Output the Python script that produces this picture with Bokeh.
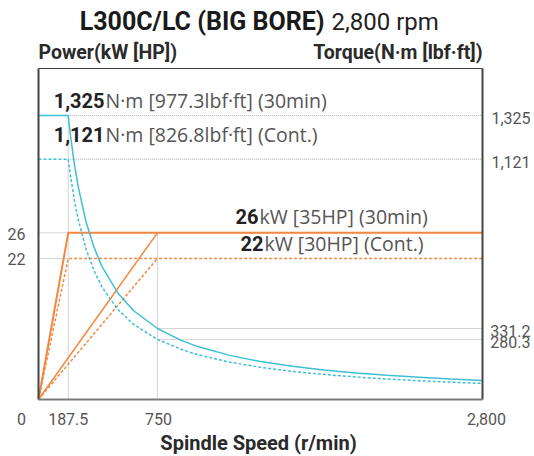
from bokeh.plotting import figure
from bokeh.models import Range1d, Label
from bokeh.embed import file_html
from bokeh.resources import INLINE

# ---------------- data ----------------
speed_ticks = [0, 187.5, 750, 2800]
speed_tick_labels = ["0", "187.5", "750", "2,800"]
power_ticks = [22, 26]
power_tick_labels = ["22", "26"]
torque_ticks = [280.3, 331.2, 1121, 1325]
torque_tick_labels = ["280.3", "331.2", "1,121", "1,325"]

# power (kW)
power_30_speed = [0, 187.5, 2800]
power_30 = [0, 26, 26]
power_30_high_speed = [0, 750]
power_30_high = [0, 26]
power_cont_speed = [0, 187.5, 2800]
power_cont = [0, 22, 22]
power_cont_high_speed = [0, 750]
power_cont_high = [0, 22]

# torque (N·m)
torque_speed = [0, 187.5, 200, 225, 250, 300, 350, 400, 500, 600, 750, 900,
                1000, 1200, 1400, 1600, 1800, 2000, 2200, 2400, 2600, 2800]
torque_30 = [1325, 1325, 1242, 1104, 994, 828, 710, 621, 497, 414, 331.2, 276,
             248, 207, 177, 155, 138, 124, 113, 104, 95.5, 88.7]
torque_cont = [1121, 1121, 1051, 934, 841, 701, 601, 525, 420, 350, 280.3, 234,
               210, 175, 150, 131, 117, 105, 95.5, 87.6, 80.8, 75.1]

title_main = "L300C/LC (BIG BORE)"
title_sub = "2,800 rpm"
x_title = "Spindle Speed (r/min)"
left_title = "Power(kW [HP])"
right_title = "Torque(N·m [lbf·ft])"
ann = [
    ("1,325", "N·m [977.3lbf·ft] (30min)"),
    ("1,121", "N·m [826.8lbf·ft] (Cont.)"),
    ("26", "kW [35HP] (30min)"),
    ("22", "kW [30HP] (Cont.)"),
]

# ---------------- layout / style ----------------
W, H = 534, 456
FL, FR, FT, FB = 38, 482, 68, 399      # chart box in page pixels
SPEED_MAX, POWER_MAX, TORQUE_MAX = 2800, 51.64, 1544

kx = (FR - FL) / SPEED_MAX
kp = (FB - FT) / POWER_MAX
kt = (FB - FT) / TORQUE_MAX

ORANGE = "#F2873F"
CYAN = "#3EC0D4"
GUIDE = "#A8A8A8"
FONT = "Roboto"
FONT2 = "Open Sans"

p = figure(width=W, height=H, output_backend="svg", toolbar_location=None,
           x_range=Range1d(-FL / kx, SPEED_MAX + (W - FR) / kx),
           y_range=Range1d(-(H - FB) / kp, FB / kp),
           x_axis_type=None, y_axis_type=None,
           min_border_left=0, min_border_right=0, min_border_top=0, min_border_bottom=0)
p.extra_y_ranges = {"torque": Range1d(-(H - FB) / kt, FB / kt)}
p.background_fill_color = "white"
p.border_fill_color = "white"
p.outline_line_color = None

# guide lines (dotted)
gd = dict(line_color=GUIDE, line_width=1, line_dash="1 1")
s_lo, s_hi = speed_ticks[1], speed_ticks[2]
p.line([s_lo, s_lo], [0, torque_30[0]], y_range_name="torque", **gd)
p.line([s_hi, s_hi], [0, power_30[1]], **gd)
p.line([s_lo, SPEED_MAX], [torque_30[0]] * 2, y_range_name="torque", **gd)
p.line([s_lo, SPEED_MAX], [torque_cont[0]] * 2, y_range_name="torque", **gd)
p.line([s_hi, SPEED_MAX], [torque_ticks[1]] * 2, y_range_name="torque", **gd)
p.line([s_hi, SPEED_MAX], [torque_ticks[0]] * 2, y_range_name="torque", **gd)
p.line([0, s_lo], [power_30[1]] * 2, **gd)
p.line([0, s_lo], [power_cont[1]] * 2, **gd)

# power curves
p.line(power_30_speed, power_30, line_color=ORANGE, line_width=2)
p.line(power_30_high_speed, power_30_high, line_color=ORANGE, line_width=1.5)
p.line(power_cont_speed, power_cont, line_color=ORANGE, line_width=1.5, line_dash="3 2")
p.line(power_cont_high_speed, power_cont_high, line_color=ORANGE, line_width=1.5, line_dash="3 2")

# torque curves
p.line(torque_speed, torque_30, y_range_name="torque", line_color=CYAN, line_width=1.5)
p.line(torque_speed, torque_cont, y_range_name="torque", line_color=CYAN, line_width=1.5, line_dash="3 2")

# chart box
p.line([0, SPEED_MAX], [POWER_MAX, POWER_MAX], line_color="#444444", line_width=1.2)
p.line([0, 0], [0, POWER_MAX], line_color="#444444", line_width=2)
p.line([SPEED_MAX, SPEED_MAX], [0, POWER_MAX], line_color="#444444", line_width=2)
p.line([0, SPEED_MAX], [0, 0], line_color="#7a7a7a", line_width=2)

def lab(text, px, py, size, bold=False, align="left", color="#555555", font=FONT):
    # py is the visual centre of the text line, in page pixels from the top
    p.add_layout(Label(x=px, y=H - py, x_units="screen", y_units="screen", text=text,
                       text_font=font, text_font_size=size,
                       text_font_style="bold" if bold else "normal",
                       text_align=align, text_baseline="middle", text_color=color))

TICK = dict(text_font=FONT, text_font_size="16px", text_color="#555555")

# x tick labels
for t, s, off in zip(speed_ticks, speed_tick_labels, [-17, 0, 1, 4]):
    p.add_layout(Label(x=t, y=H - 418, y_units="screen", x_offset=off, text=s,
                       text_align="center", text_baseline="middle", **TICK))
# left tick labels
for t, s in zip(power_ticks, power_tick_labels):
    p.add_layout(Label(x=25, x_units="screen", y=t, y_offset=-1, text=s,
                       text_align="right", text_baseline="middle", **TICK))
# right tick labels
for t, s in zip(torque_ticks, torque_tick_labels):
    p.add_layout(Label(x=530, x_units="screen", y=t, y_range_name="torque", y_offset=-3,
                       text=s, text_align="right", text_baseline="middle", **TICK))

# title
lab(title_main, 324, 21, "25px", bold=True, align="right", color="#1a1a1a")
lab(title_sub, 331, 21, "24px", color="#222222")
# axis titles
lab(left_title, FL, 52, "19.5px", bold=True, color="#2a2a2a")
lab(right_title, FR, 52, "19.5px", bold=True, align="right", color="#2a2a2a")
lab(x_title, 258, 442, "20px", bold=True, align="center", color="#2a2a2a")

# annotations: bold value + normal remainder, joined at a fixed point
pos = [(104, 100), (104, 134), (258, 216), (263, 243)]
for (b, n), (jx, cy) in zip(ann, pos):
    lab(b, jx, cy, "20px", bold=True, align="right", color="#222222")
    lab(n, jx + 1, cy, "19.5px", color="#555555", font=FONT2)

open("out.html", "w").write(file_html(p, INLINE))
